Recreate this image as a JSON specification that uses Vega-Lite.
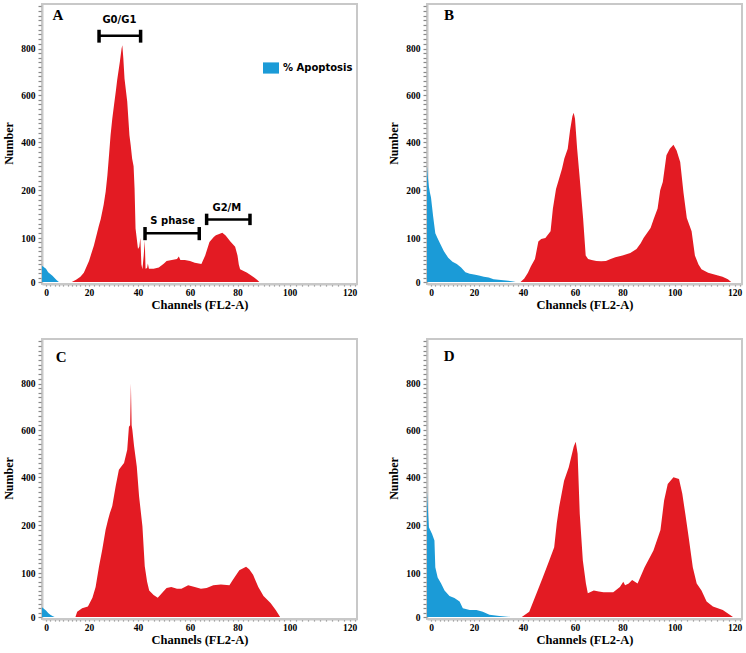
{
  "$schema": "https://vega.github.io/schema/vega-lite/v6.json",
  "background": "white",
  "padding": {"left": 1, "top": 0, "right": 0, "bottom": 0},
  "columns": 2,
  "spacing": {"row": 55, "column": 70},
  "bounds": "flush",
  "resolve": {"scale": {"x": "independent", "y": "independent", "color": "independent"}},
  "config": {
    "view": {"stroke": "#c8c8c8", "strokeWidth": 2},
    "axis": {
      "grid": false,
      "domainColor": "#c8c8c8", "domainWidth": 2,
      "tickColor": "#888", "tickWidth": 1.2,
      "labelFont": "Liberation Serif", "labelFontWeight": "bold", "labelColor": "#000",
      "labelFlush": false, "labelOverlap": false, "labelBound": false,
      "titleFont": "Liberation Serif", "titleFontWeight": "bold", "titleColor": "#000"
    },
    "axisX": {"tickSize": 2, "labelPadding": 1, "labelFontSize": 9.5, "titleFontSize": 12.5, "titlePadding": 2},
    "axisY": {"tickSize": 4, "labelPadding": 3, "labelFontSize": 9.5, "titleFontSize": 12, "titlePadding": 5}
  },
  "datasets": {
    "hist": [
      {"panel": "A", "series": "apoptosis", "channel": -1.9, "count": 37},
      {"panel": "A", "series": "apoptosis", "channel": 0, "count": 30},
      {"panel": "A", "series": "apoptosis", "channel": 1, "count": 22},
      {"panel": "A", "series": "apoptosis", "channel": 2, "count": 18},
      {"panel": "A", "series": "apoptosis", "channel": 3, "count": 14},
      {"panel": "A", "series": "apoptosis", "channel": 4, "count": 9},
      {"panel": "A", "series": "apoptosis", "channel": 5, "count": 4},
      {"panel": "A", "series": "apoptosis", "channel": 6, "count": 0},
      {"panel": "A", "series": "cells", "channel": 12, "count": 0},
      {"panel": "A", "series": "cells", "channel": 14, "count": 5},
      {"panel": "A", "series": "cells", "channel": 16, "count": 12},
      {"panel": "A", "series": "cells", "channel": 17.6, "count": 21},
      {"panel": "A", "series": "cells", "channel": 20, "count": 48},
      {"panel": "A", "series": "cells", "channel": 22, "count": 83},
      {"panel": "A", "series": "cells", "channel": 24, "count": 125},
      {"panel": "A", "series": "cells", "channel": 24.8, "count": 140},
      {"panel": "A", "series": "cells", "channel": 26, "count": 170},
      {"panel": "A", "series": "cells", "channel": 26.8, "count": 197},
      {"panel": "A", "series": "cells", "channel": 27.5, "count": 262},
      {"panel": "A", "series": "cells", "channel": 28.2, "count": 350},
      {"panel": "A", "series": "cells", "channel": 28.8, "count": 430},
      {"panel": "A", "series": "cells", "channel": 29.5, "count": 500},
      {"panel": "A", "series": "cells", "channel": 30.2, "count": 557},
      {"panel": "A", "series": "cells", "channel": 31, "count": 620},
      {"panel": "A", "series": "cells", "channel": 31.5, "count": 664},
      {"panel": "A", "series": "cells", "channel": 32.6, "count": 743},
      {"panel": "A", "series": "cells", "channel": 33.3, "count": 800},
      {"panel": "A", "series": "cells", "channel": 33.6, "count": 814},
      {"panel": "A", "series": "cells", "channel": 34, "count": 760},
      {"panel": "A", "series": "cells", "channel": 34.5, "count": 670},
      {"panel": "A", "series": "cells", "channel": 35.6, "count": 572},
      {"panel": "A", "series": "cells", "channel": 36.5, "count": 430},
      {"panel": "A", "series": "cells", "channel": 37, "count": 390},
      {"panel": "A", "series": "cells", "channel": 37.6, "count": 332},
      {"panel": "A", "series": "cells", "channel": 38.2, "count": 300},
      {"panel": "A", "series": "cells", "channel": 38.6, "count": 207},
      {"panel": "A", "series": "cells", "channel": 39, "count": 120},
      {"panel": "A", "series": "cells", "channel": 40, "count": 75},
      {"panel": "A", "series": "cells", "channel": 40.5, "count": 80},
      {"panel": "A", "series": "cells", "channel": 40.9, "count": 100},
      {"panel": "A", "series": "cells", "channel": 41.3, "count": 40},
      {"panel": "A", "series": "cells", "channel": 41.7, "count": 29},
      {"panel": "A", "series": "cells", "channel": 42.2, "count": 60},
      {"panel": "A", "series": "cells", "channel": 42.6, "count": 95},
      {"panel": "A", "series": "cells", "channel": 42.9, "count": 30},
      {"panel": "A", "series": "cells", "channel": 43.5, "count": 32},
      {"panel": "A", "series": "cells", "channel": 43.8, "count": 42},
      {"panel": "A", "series": "cells", "channel": 44.2, "count": 30},
      {"panel": "A", "series": "cells", "channel": 46, "count": 30},
      {"panel": "A", "series": "cells", "channel": 48, "count": 33},
      {"panel": "A", "series": "cells", "channel": 50, "count": 42},
      {"panel": "A", "series": "cells", "channel": 51, "count": 48},
      {"panel": "A", "series": "cells", "channel": 53, "count": 50},
      {"panel": "A", "series": "cells", "channel": 55, "count": 52},
      {"panel": "A", "series": "cells", "channel": 55.7, "count": 58},
      {"panel": "A", "series": "cells", "channel": 56.3, "count": 50},
      {"panel": "A", "series": "cells", "channel": 58, "count": 50},
      {"panel": "A", "series": "cells", "channel": 60, "count": 48},
      {"panel": "A", "series": "cells", "channel": 62, "count": 44},
      {"panel": "A", "series": "cells", "channel": 64.8, "count": 41},
      {"panel": "A", "series": "cells", "channel": 66.4, "count": 60},
      {"panel": "A", "series": "cells", "channel": 68.2, "count": 91},
      {"panel": "A", "series": "cells", "channel": 70, "count": 102},
      {"panel": "A", "series": "cells", "channel": 70.9, "count": 106},
      {"panel": "A", "series": "cells", "channel": 72, "count": 108},
      {"panel": "A", "series": "cells", "channel": 73.6, "count": 111},
      {"panel": "A", "series": "cells", "channel": 75, "count": 105},
      {"panel": "A", "series": "cells", "channel": 77, "count": 92},
      {"panel": "A", "series": "cells", "channel": 79, "count": 80},
      {"panel": "A", "series": "cells", "channel": 80, "count": 60},
      {"panel": "A", "series": "cells", "channel": 80.5, "count": 40},
      {"panel": "A", "series": "cells", "channel": 81, "count": 29},
      {"panel": "A", "series": "cells", "channel": 83.7, "count": 21},
      {"panel": "A", "series": "cells", "channel": 85, "count": 16},
      {"panel": "A", "series": "cells", "channel": 86.4, "count": 10},
      {"panel": "A", "series": "cells", "channel": 87.5, "count": 5},
      {"panel": "A", "series": "cells", "channel": 88.4, "count": 0},

      {"panel": "B", "series": "apoptosis", "channel": -1.9, "count": 300},
      {"panel": "B", "series": "apoptosis", "channel": -1.5, "count": 255},
      {"panel": "B", "series": "apoptosis", "channel": -1, "count": 215},
      {"panel": "B", "series": "apoptosis", "channel": -0.5, "count": 195},
      {"panel": "B", "series": "apoptosis", "channel": 0, "count": 185},
      {"panel": "B", "series": "apoptosis", "channel": 0.5, "count": 165},
      {"panel": "B", "series": "apoptosis", "channel": 1, "count": 145},
      {"panel": "B", "series": "apoptosis", "channel": 2, "count": 110},
      {"panel": "B", "series": "apoptosis", "channel": 3, "count": 100},
      {"panel": "B", "series": "apoptosis", "channel": 4, "count": 90},
      {"panel": "B", "series": "apoptosis", "channel": 6, "count": 70},
      {"panel": "B", "series": "apoptosis", "channel": 8, "count": 55},
      {"panel": "B", "series": "apoptosis", "channel": 10, "count": 46},
      {"panel": "B", "series": "apoptosis", "channel": 12, "count": 41},
      {"panel": "B", "series": "apoptosis", "channel": 14, "count": 33},
      {"panel": "B", "series": "apoptosis", "channel": 16, "count": 22},
      {"panel": "B", "series": "apoptosis", "channel": 18, "count": 19},
      {"panel": "B", "series": "apoptosis", "channel": 20, "count": 17},
      {"panel": "B", "series": "apoptosis", "channel": 22, "count": 15},
      {"panel": "B", "series": "apoptosis", "channel": 24, "count": 12},
      {"panel": "B", "series": "apoptosis", "channel": 26, "count": 10},
      {"panel": "B", "series": "apoptosis", "channel": 28, "count": 6},
      {"panel": "B", "series": "apoptosis", "channel": 30, "count": 5},
      {"panel": "B", "series": "apoptosis", "channel": 32, "count": 4},
      {"panel": "B", "series": "apoptosis", "channel": 34, "count": 3},
      {"panel": "B", "series": "apoptosis", "channel": 36, "count": 1},
      {"panel": "B", "series": "apoptosis", "channel": 37, "count": 0},
      {"panel": "B", "series": "cells", "channel": 39, "count": 0},
      {"panel": "B", "series": "cells", "channel": 40.5, "count": 8},
      {"panel": "B", "series": "cells", "channel": 41.9, "count": 21},
      {"panel": "B", "series": "cells", "channel": 43, "count": 35},
      {"panel": "B", "series": "cells", "channel": 44.6, "count": 52},
      {"panel": "B", "series": "cells", "channel": 45.9, "count": 92},
      {"panel": "B", "series": "cells", "channel": 47, "count": 98},
      {"panel": "B", "series": "cells", "channel": 48.6, "count": 100},
      {"panel": "B", "series": "cells", "channel": 50.6, "count": 114},
      {"panel": "B", "series": "cells", "channel": 51.5, "count": 162},
      {"panel": "B", "series": "cells", "channel": 52.7, "count": 205},
      {"panel": "B", "series": "cells", "channel": 53.9, "count": 249},
      {"panel": "B", "series": "cells", "channel": 55, "count": 290},
      {"panel": "B", "series": "cells", "channel": 55.9, "count": 332},
      {"panel": "B", "series": "cells", "channel": 57.2, "count": 373},
      {"panel": "B", "series": "cells", "channel": 58.1, "count": 451},
      {"panel": "B", "series": "cells", "channel": 59, "count": 510},
      {"panel": "B", "series": "cells", "channel": 59.5, "count": 525},
      {"panel": "B", "series": "cells", "channel": 60, "count": 500},
      {"panel": "B", "series": "cells", "channel": 60.9, "count": 373},
      {"panel": "B", "series": "cells", "channel": 62, "count": 249},
      {"panel": "B", "series": "cells", "channel": 63.4, "count": 142},
      {"panel": "B", "series": "cells", "channel": 64.5, "count": 60},
      {"panel": "B", "series": "cells", "channel": 65.5, "count": 52},
      {"panel": "B", "series": "cells", "channel": 67, "count": 50},
      {"panel": "B", "series": "cells", "channel": 69, "count": 48},
      {"panel": "B", "series": "cells", "channel": 71, "count": 47},
      {"panel": "B", "series": "cells", "channel": 73, "count": 48},
      {"panel": "B", "series": "cells", "channel": 75, "count": 52},
      {"panel": "B", "series": "cells", "channel": 77, "count": 56},
      {"panel": "B", "series": "cells", "channel": 80, "count": 60},
      {"panel": "B", "series": "cells", "channel": 83, "count": 66},
      {"panel": "B", "series": "cells", "channel": 85.4, "count": 75},
      {"panel": "B", "series": "cells", "channel": 87, "count": 88},
      {"panel": "B", "series": "cells", "channel": 88.1, "count": 100},
      {"panel": "B", "series": "cells", "channel": 90.8, "count": 121},
      {"panel": "B", "series": "cells", "channel": 92, "count": 140},
      {"panel": "B", "series": "cells", "channel": 93.5, "count": 162},
      {"panel": "B", "series": "cells", "channel": 94.5, "count": 200},
      {"panel": "B", "series": "cells", "channel": 95.5, "count": 235},
      {"panel": "B", "series": "cells", "channel": 96.9, "count": 346},
      {"panel": "B", "series": "cells", "channel": 98.2, "count": 373},
      {"panel": "B", "series": "cells", "channel": 99.6, "count": 390},
      {"panel": "B", "series": "cells", "channel": 100.7, "count": 366},
      {"panel": "B", "series": "cells", "channel": 101.9, "count": 318},
      {"panel": "B", "series": "cells", "channel": 103, "count": 195},
      {"panel": "B", "series": "cells", "channel": 104.1, "count": 142},
      {"panel": "B", "series": "cells", "channel": 105.7, "count": 114},
      {"panel": "B", "series": "cells", "channel": 106.8, "count": 60},
      {"panel": "B", "series": "cells", "channel": 108, "count": 40},
      {"panel": "B", "series": "cells", "channel": 109, "count": 29},
      {"panel": "B", "series": "cells", "channel": 111.2, "count": 21},
      {"panel": "B", "series": "cells", "channel": 114.5, "count": 15},
      {"panel": "B", "series": "cells", "channel": 116, "count": 12},
      {"panel": "B", "series": "cells", "channel": 117.8, "count": 6},
      {"panel": "B", "series": "cells", "channel": 118.9, "count": 0},

      {"panel": "C", "series": "apoptosis", "channel": -1.9, "count": 22},
      {"panel": "C", "series": "apoptosis", "channel": 0, "count": 15},
      {"panel": "C", "series": "apoptosis", "channel": 1, "count": 9},
      {"panel": "C", "series": "apoptosis", "channel": 2, "count": 5},
      {"panel": "C", "series": "apoptosis", "channel": 3, "count": 2},
      {"panel": "C", "series": "apoptosis", "channel": 4, "count": 0},
      {"panel": "C", "series": "cells", "channel": 13.7, "count": 0},
      {"panel": "C", "series": "cells", "channel": 14.5, "count": 12},
      {"panel": "C", "series": "cells", "channel": 16.8, "count": 20},
      {"panel": "C", "series": "cells", "channel": 19.5, "count": 24},
      {"panel": "C", "series": "cells", "channel": 21.4, "count": 44},
      {"panel": "C", "series": "cells", "channel": 22.7, "count": 68},
      {"panel": "C", "series": "cells", "channel": 24.1, "count": 114},
      {"panel": "C", "series": "cells", "channel": 25.4, "count": 149},
      {"panel": "C", "series": "cells", "channel": 26.8, "count": 191},
      {"panel": "C", "series": "cells", "channel": 27.8, "count": 224},
      {"panel": "C", "series": "cells", "channel": 28.5, "count": 250},
      {"panel": "C", "series": "cells", "channel": 29.5, "count": 280},
      {"panel": "C", "series": "cells", "channel": 30.9, "count": 364},
      {"panel": "C", "series": "cells", "channel": 32.2, "count": 432},
      {"panel": "C", "series": "cells", "channel": 33.5, "count": 450},
      {"panel": "C", "series": "cells", "channel": 34.3, "count": 460},
      {"panel": "C", "series": "cells", "channel": 35.6, "count": 517},
      {"panel": "C", "series": "cells", "channel": 36.3, "count": 614},
      {"panel": "C", "series": "cells", "channel": 36.8, "count": 620},
      {"panel": "C", "series": "cells", "channel": 37.1, "count": 800},
      {"panel": "C", "series": "cells", "channel": 37.4, "count": 620},
      {"panel": "C", "series": "cells", "channel": 37.7, "count": 600},
      {"panel": "C", "series": "cells", "channel": 38.4, "count": 531},
      {"panel": "C", "series": "cells", "channel": 39.5, "count": 446},
      {"panel": "C", "series": "cells", "channel": 40.4, "count": 322},
      {"panel": "C", "series": "cells", "channel": 41.7, "count": 198},
      {"panel": "C", "series": "cells", "channel": 42.6, "count": 114},
      {"panel": "C", "series": "cells", "channel": 43.5, "count": 80},
      {"panel": "C", "series": "cells", "channel": 44.3, "count": 60},
      {"panel": "C", "series": "cells", "channel": 46, "count": 50},
      {"panel": "C", "series": "cells", "channel": 47.6, "count": 44},
      {"panel": "C", "series": "cells", "channel": 49.5, "count": 56},
      {"panel": "C", "series": "cells", "channel": 51, "count": 66},
      {"panel": "C", "series": "cells", "channel": 52.8, "count": 68},
      {"panel": "C", "series": "cells", "channel": 55, "count": 64},
      {"panel": "C", "series": "cells", "channel": 56.7, "count": 64},
      {"panel": "C", "series": "cells", "channel": 59.3, "count": 72},
      {"panel": "C", "series": "cells", "channel": 62, "count": 68},
      {"panel": "C", "series": "cells", "channel": 64.6, "count": 64},
      {"panel": "C", "series": "cells", "channel": 67, "count": 66},
      {"panel": "C", "series": "cells", "channel": 69.8, "count": 72},
      {"panel": "C", "series": "cells", "channel": 73, "count": 74},
      {"panel": "C", "series": "cells", "channel": 76.6, "count": 72},
      {"panel": "C", "series": "cells", "channel": 78, "count": 84},
      {"panel": "C", "series": "cells", "channel": 80.7, "count": 106},
      {"panel": "C", "series": "cells", "channel": 83.3, "count": 113},
      {"panel": "C", "series": "cells", "channel": 84.5, "count": 108},
      {"panel": "C", "series": "cells", "channel": 86, "count": 96},
      {"panel": "C", "series": "cells", "channel": 88, "count": 68},
      {"panel": "C", "series": "cells", "channel": 90, "count": 48},
      {"panel": "C", "series": "cells", "channel": 92.7, "count": 32},
      {"panel": "C", "series": "cells", "channel": 94.7, "count": 16},
      {"panel": "C", "series": "cells", "channel": 96.4, "count": 0},

      {"panel": "D", "series": "apoptosis", "channel": -1.9, "count": 340},
      {"panel": "D", "series": "apoptosis", "channel": -1.7, "count": 304},
      {"panel": "D", "series": "apoptosis", "channel": -1.3, "count": 240},
      {"panel": "D", "series": "apoptosis", "channel": -1, "count": 196},
      {"panel": "D", "series": "apoptosis", "channel": 0.5, "count": 182},
      {"panel": "D", "series": "apoptosis", "channel": 1.6, "count": 168},
      {"panel": "D", "series": "apoptosis", "channel": 2, "count": 112},
      {"panel": "D", "series": "apoptosis", "channel": 3.1, "count": 90},
      {"panel": "D", "series": "apoptosis", "channel": 4.7, "count": 76},
      {"panel": "D", "series": "apoptosis", "channel": 6.3, "count": 60},
      {"panel": "D", "series": "apoptosis", "channel": 8.6, "count": 48},
      {"panel": "D", "series": "apoptosis", "channel": 10.9, "count": 43},
      {"panel": "D", "series": "apoptosis", "channel": 13.3, "count": 35},
      {"panel": "D", "series": "apoptosis", "channel": 14.8, "count": 20},
      {"panel": "D", "series": "apoptosis", "channel": 18, "count": 16},
      {"panel": "D", "series": "apoptosis", "channel": 21, "count": 16},
      {"panel": "D", "series": "apoptosis", "channel": 23.6, "count": 12},
      {"panel": "D", "series": "apoptosis", "channel": 26.3, "count": 5},
      {"panel": "D", "series": "apoptosis", "channel": 30.4, "count": 2},
      {"panel": "D", "series": "apoptosis", "channel": 35.1, "count": 0},
      {"panel": "D", "series": "cells", "channel": 39.5, "count": 0},
      {"panel": "D", "series": "cells", "channel": 42.4, "count": 12},
      {"panel": "D", "series": "cells", "channel": 45.1, "count": 52},
      {"panel": "D", "series": "cells", "channel": 47.6, "count": 90},
      {"panel": "D", "series": "cells", "channel": 50.1, "count": 126},
      {"panel": "D", "series": "cells", "channel": 52, "count": 154},
      {"panel": "D", "series": "cells", "channel": 53, "count": 210},
      {"panel": "D", "series": "cells", "channel": 53.9, "count": 276},
      {"panel": "D", "series": "cells", "channel": 55.8, "count": 386},
      {"panel": "D", "series": "cells", "channel": 57.6, "count": 443},
      {"panel": "D", "series": "cells", "channel": 59.5, "count": 529},
      {"panel": "D", "series": "cells", "channel": 60.3, "count": 550},
      {"panel": "D", "series": "cells", "channel": 61.1, "count": 500},
      {"panel": "D", "series": "cells", "channel": 62, "count": 248},
      {"panel": "D", "series": "cells", "channel": 63.3, "count": 126},
      {"panel": "D", "series": "cells", "channel": 64.6, "count": 76},
      {"panel": "D", "series": "cells", "channel": 65.4, "count": 54},
      {"panel": "D", "series": "cells", "channel": 67.9, "count": 60},
      {"panel": "D", "series": "cells", "channel": 70, "count": 58},
      {"panel": "D", "series": "cells", "channel": 72, "count": 56},
      {"panel": "D", "series": "cells", "channel": 76.1, "count": 56},
      {"panel": "D", "series": "cells", "channel": 78.9, "count": 68},
      {"panel": "D", "series": "cells", "channel": 80.3, "count": 80},
      {"panel": "D", "series": "cells", "channel": 81, "count": 72},
      {"panel": "D", "series": "cells", "channel": 82.4, "count": 76},
      {"panel": "D", "series": "cells", "channel": 83.7, "count": 84},
      {"panel": "D", "series": "cells", "channel": 85.8, "count": 76},
      {"panel": "D", "series": "cells", "channel": 88.5, "count": 112},
      {"panel": "D", "series": "cells", "channel": 91.9, "count": 147},
      {"panel": "D", "series": "cells", "channel": 94.6, "count": 190},
      {"panel": "D", "series": "cells", "channel": 96, "count": 303},
      {"panel": "D", "series": "cells", "channel": 97.4, "count": 372},
      {"panel": "D", "series": "cells", "channel": 99.6, "count": 400},
      {"panel": "D", "series": "cells", "channel": 101.5, "count": 393},
      {"panel": "D", "series": "cells", "channel": 102.6, "count": 331},
      {"panel": "D", "series": "cells", "channel": 103.6, "count": 248},
      {"panel": "D", "series": "cells", "channel": 104.7, "count": 176},
      {"panel": "D", "series": "cells", "channel": 106.1, "count": 112},
      {"panel": "D", "series": "cells", "channel": 107.4, "count": 76},
      {"panel": "D", "series": "cells", "channel": 109, "count": 60},
      {"panel": "D", "series": "cells", "channel": 110.7, "count": 35},
      {"panel": "D", "series": "cells", "channel": 112.8, "count": 24},
      {"panel": "D", "series": "cells", "channel": 116.1, "count": 16},
      {"panel": "D", "series": "cells", "channel": 119.5, "count": 0}
    ],
    "brackets": [
      {"phase": "G0/G1", "channel": 24.1, "channel2": 41.0, "count": 854},
      {"phase": "S phase", "channel": 42.7, "channel2": 63.9, "count": 110},
      {"phase": "G2/M", "channel": 67, "channel2": 84.8, "count": 139}
    ],
    "caps": [
      {"phase": "G0/G1", "channel": 24.1, "count": 825, "count2": 880},
      {"phase": "G0/G1", "channel": 41.0, "count": 825, "count2": 880},
      {"phase": "S phase", "channel": 42.7, "count": 95, "count2": 123},
      {"phase": "S phase", "channel": 63.9, "count": 95, "count2": 123},
      {"phase": "G2/M", "channel": 67, "count": 127, "count2": 151},
      {"phase": "G2/M", "channel": 84.8, "count": 127, "count2": 151}
    ],
    "phaseLabels": [
      {"label": "G0/G1", "channel": 32.4, "count": 921},
      {"label": "S phase", "channel": 53.3, "count": 136},
      {"label": "G2/M", "channel": 75.5, "count": 163}
    ]
  },
  "concat": [
    {
      "width": 315, "height": 280,
      "encoding": {
        "x": {"field": "channel", "type": "quantitative",
          "scale": {"domain": [-1.9, 0, 20, 40, 60, 80, 100, 120, 122.8], "range": [0, 4, 47, 96, 148, 195.5, 247.5, 307.5, 315], "nice": false, "zero": false},
          "axis": {"title": "Channels (FL2-A)", "values": [0,2,4,6,8,10,12,14,16,18,20,22,24,26,28,30,32,34,36,38,40,42,44,46,48,50,52,54,56,58,60,62,64,66,68,70,72,74,76,78,80,82,84,86,88,90,92,94,96,98,100,102,104,106,108,110,112,114,116,118,120,122], "labelExpr": "datum.value % 20 === 0 ? datum.label : ''"}},
        "y": {"field": "count", "type": "quantitative",
          "scale": {"domain": [0, 100, 200, 400, 600, 800, 990], "range": [278, 234, 186.3, 138.3, 91, 44.5, 0], "nice": false, "zero": false},
          "axis": {"title": "Number", "values": [0,10,20,30,40,50,60,70,80,90,100,110,120,130,140,150,160,170,180,190,200,220,240,260,280,300,320,340,360,380,400,420,440,460,480,500,520,540,560,580,600,620,640,660,680,700,720,740,760,780,800,820,840,860,880,900,920,940,960,980], "labelExpr": "indexof([0,100,200,400,600,800], datum.value) >= 0 ? datum.label : ''"}}
      },
      "layer": [
        {"data": {"name": "hist"}, "transform": [{"filter": "datum.panel === 'A' && datum.series === 'apoptosis'"}],
         "mark": {"type": "area", "interpolate": "linear"},
         "encoding": {"y": {"field": "count", "type": "quantitative", "stack": null},
           "color": {"datum": "% Apoptosis", "type": "nominal", "scale": {"domain": ["% Apoptosis"], "range": ["#1b9bd7"]},
             "legend": {"orient": "none", "legendX": 221, "legendY": 56, "title": null, "padding": 0, "symbolType": "M-1,-0.7H1V0.7H-1Z", "symbolSize": 256, "symbolStrokeWidth": 0, "labelFont": "DejaVu Sans", "labelFontWeight": "bold", "labelFontSize": 10, "labelColor": "#000", "labelOffset": 4}}}},
        {"data": {"name": "hist"}, "transform": [{"filter": "datum.panel === 'A' && datum.series === 'cells'"}],
         "mark": {"type": "area", "interpolate": "linear", "color": "#e31b23"},
         "encoding": {"y": {"field": "count", "type": "quantitative", "stack": null}}},
        {"data": {"values": [{"label": "A", "channel": 5.6, "count": 942}]},
         "mark": {"type": "text", "font": "Liberation Serif", "fontWeight": "bold", "fontSize": 15, "color": "#000"},
         "encoding": {"text": {"field": "label"}}},
        {"data": {"name": "brackets"},
         "mark": {"type": "rule", "color": "#000", "strokeWidth": 2.5},
         "encoding": {"x2": {"field": "channel2"}}},
        {"data": {"name": "caps"},
         "mark": {"type": "rule", "color": "#000", "strokeWidth": 3.5},
         "encoding": {"y2": {"field": "count2"}}},
        {"data": {"name": "phaseLabels"},
         "mark": {"type": "text", "font": "DejaVu Sans", "fontWeight": "bold", "fontSize": 10, "color": "#000"},
         "encoding": {"text": {"field": "label"}}}
      ]
    },
    {
      "width": 315, "height": 280,
      "encoding": {
        "x": {"field": "channel", "type": "quantitative",
          "scale": {"domain": [-1.9, 0, 20, 40, 60, 80, 100, 120, 122.8], "range": [0, 4, 47, 96, 148, 195.5, 247.5, 307.5, 315], "nice": false, "zero": false},
          "axis": {"title": "Channels (FL2-A)", "values": [0,2,4,6,8,10,12,14,16,18,20,22,24,26,28,30,32,34,36,38,40,42,44,46,48,50,52,54,56,58,60,62,64,66,68,70,72,74,76,78,80,82,84,86,88,90,92,94,96,98,100,102,104,106,108,110,112,114,116,118,120,122], "labelExpr": "datum.value % 20 === 0 ? datum.label : ''"}},
        "y": {"field": "count", "type": "quantitative",
          "scale": {"domain": [0, 100, 200, 400, 600, 800, 990], "range": [278, 234, 186.3, 138.3, 91, 44.5, 0], "nice": false, "zero": false},
          "axis": {"title": "Number", "values": [0,10,20,30,40,50,60,70,80,90,100,110,120,130,140,150,160,170,180,190,200,220,240,260,280,300,320,340,360,380,400,420,440,460,480,500,520,540,560,580,600,620,640,660,680,700,720,740,760,780,800,820,840,860,880,900,920,940,960,980], "labelExpr": "indexof([0,100,200,400,600,800], datum.value) >= 0 ? datum.label : ''"}}
      },
      "layer": [
        {"data": {"name": "hist"}, "transform": [{"filter": "datum.panel === 'B' && datum.series === 'apoptosis'"}],
         "mark": {"type": "area", "interpolate": "linear", "color": "#1b9bd7"},
         "encoding": {"y": {"field": "count", "type": "quantitative", "stack": null}}},
        {"data": {"name": "hist"}, "transform": [{"filter": "datum.panel === 'B' && datum.series === 'cells'"}],
         "mark": {"type": "area", "interpolate": "linear", "color": "#e31b23"},
         "encoding": {"y": {"field": "count", "type": "quantitative", "stack": null}}},
        {"data": {"values": [{"label": "B", "channel": 8.4, "count": 942}]},
         "mark": {"type": "text", "font": "Liberation Serif", "fontWeight": "bold", "fontSize": 15, "color": "#000"},
         "encoding": {"text": {"field": "label"}}}
      ]
    },
    {
      "width": 315, "height": 280,
      "encoding": {
        "x": {"field": "channel", "type": "quantitative",
          "scale": {"domain": [-1.9, 0, 20, 40, 60, 80, 100, 120, 122.8], "range": [0, 4, 47, 96, 148, 195.5, 247.5, 307.5, 315], "nice": false, "zero": false},
          "axis": {"title": "Channels (FL2-A)", "values": [0,2,4,6,8,10,12,14,16,18,20,22,24,26,28,30,32,34,36,38,40,42,44,46,48,50,52,54,56,58,60,62,64,66,68,70,72,74,76,78,80,82,84,86,88,90,92,94,96,98,100,102,104,106,108,110,112,114,116,118,120,122], "labelExpr": "datum.value % 20 === 0 ? datum.label : ''"}},
        "y": {"field": "count", "type": "quantitative",
          "scale": {"domain": [0, 100, 200, 400, 600, 800, 990], "range": [278, 234, 186.3, 138.3, 91, 44.5, 0], "nice": false, "zero": false},
          "axis": {"title": "Number", "values": [0,10,20,30,40,50,60,70,80,90,100,110,120,130,140,150,160,170,180,190,200,220,240,260,280,300,320,340,360,380,400,420,440,460,480,500,520,540,560,580,600,620,640,660,680,700,720,740,760,780,800,820,840,860,880,900,920,940,960,980], "labelExpr": "indexof([0,100,200,400,600,800], datum.value) >= 0 ? datum.label : ''"}}
      },
      "layer": [
        {"data": {"name": "hist"}, "transform": [{"filter": "datum.panel === 'C' && datum.series === 'apoptosis'"}],
         "mark": {"type": "area", "interpolate": "linear", "color": "#1b9bd7"},
         "encoding": {"y": {"field": "count", "type": "quantitative", "stack": null}}},
        {"data": {"name": "hist"}, "transform": [{"filter": "datum.panel === 'C' && datum.series === 'cells'"}],
         "mark": {"type": "area", "interpolate": "linear", "color": "#e31b23"},
         "encoding": {"y": {"field": "count", "type": "quantitative", "stack": null}}},
        {"data": {"values": [{"label": "C", "channel": 7, "count": 915}]},
         "mark": {"type": "text", "font": "Liberation Serif", "fontWeight": "bold", "fontSize": 15, "color": "#000"},
         "encoding": {"text": {"field": "label"}}}
      ]
    },
    {
      "width": 315, "height": 280,
      "encoding": {
        "x": {"field": "channel", "type": "quantitative",
          "scale": {"domain": [-1.9, 0, 20, 40, 60, 80, 100, 120, 122.8], "range": [0, 4, 47, 96, 148, 195.5, 247.5, 307.5, 315], "nice": false, "zero": false},
          "axis": {"title": "Channels (FL2-A)", "values": [0,2,4,6,8,10,12,14,16,18,20,22,24,26,28,30,32,34,36,38,40,42,44,46,48,50,52,54,56,58,60,62,64,66,68,70,72,74,76,78,80,82,84,86,88,90,92,94,96,98,100,102,104,106,108,110,112,114,116,118,120,122], "labelExpr": "datum.value % 20 === 0 ? datum.label : ''"}},
        "y": {"field": "count", "type": "quantitative",
          "scale": {"domain": [0, 100, 200, 400, 600, 800, 990], "range": [278, 234, 186.3, 138.3, 91, 44.5, 0], "nice": false, "zero": false},
          "axis": {"title": "Number", "values": [0,10,20,30,40,50,60,70,80,90,100,110,120,130,140,150,160,170,180,190,200,220,240,260,280,300,320,340,360,380,400,420,440,460,480,500,520,540,560,580,600,620,640,660,680,700,720,740,760,780,800,820,840,860,880,900,920,940,960,980], "labelExpr": "indexof([0,100,200,400,600,800], datum.value) >= 0 ? datum.label : ''"}}
      },
      "layer": [
        {"data": {"name": "hist"}, "transform": [{"filter": "datum.panel === 'D' && datum.series === 'apoptosis'"}],
         "mark": {"type": "area", "interpolate": "linear", "color": "#1b9bd7"},
         "encoding": {"y": {"field": "count", "type": "quantitative", "stack": null}}},
        {"data": {"name": "hist"}, "transform": [{"filter": "datum.panel === 'D' && datum.series === 'cells'"}],
         "mark": {"type": "area", "interpolate": "linear", "color": "#e31b23"},
         "encoding": {"y": {"field": "count", "type": "quantitative", "stack": null}}},
        {"data": {"values": [{"label": "D", "channel": 8.4, "count": 918}]},
         "mark": {"type": "text", "font": "Liberation Serif", "fontWeight": "bold", "fontSize": 15, "color": "#000"},
         "encoding": {"text": {"field": "label"}}}
      ]
    }
  ]
}
